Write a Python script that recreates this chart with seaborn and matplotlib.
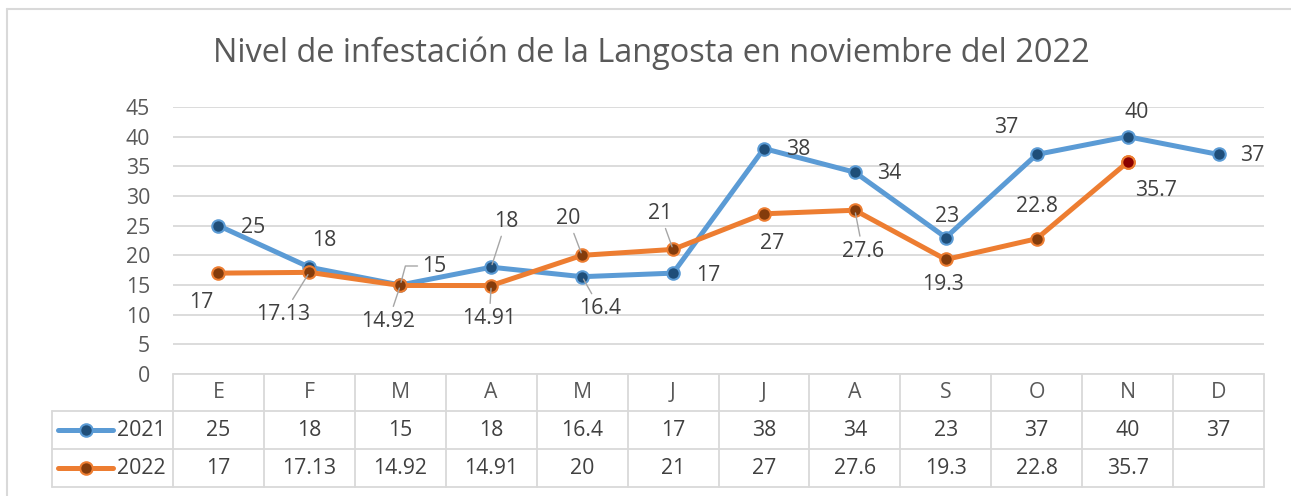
import numpy as np
import pandas as pd
import matplotlib
matplotlib.use("Agg")
import matplotlib.pyplot as plt
import matplotlib.transforms as mtransforms
from matplotlib.lines import Line2D
import seaborn as sns

# ---------------- data ----------------
months = ["E", "F", "M", "A", "M", "J", "J", "A", "S", "O", "N", "D"]
series_names = ["2021", "2022"]
values_2021 = [25, 18, 15, 18, 16.4, 17, 38, 34, 23, 37, 40, 37]
values_2022 = [17, 17.13, 14.92, 14.91, 20, 21, 27, 27.6, 19.3, 22.8, 35.7, np.nan]
y_ticks = [0, 5, 10, 15, 20, 25, 30, 35, 40, 45]
title = "Nivel de infestación de la Langosta en noviembre del 2022"

# ---------------- styles ----------------
W, H = 1291, 496
C_2021, F_2021 = "#5B9BD5", "#1F4E79"
C_2022, F_2022 = "#ED7D31", "#843C0C"
F_HIGHLIGHT = "#8B0000"
GRID = "#D9D9D9"
TXT = "#404040"
FONT = "Open Sans"
FS = 15.3

# label offsets in pixels (dx, dy up) and whether a leader line is drawn
off_2021 = [(35, -2), (15, 27), (34, 19), (15, 46), (18, -32), (35, -2),
            (34, -1), (34, -1), (1, 21), (-30, 27), (9, 24), (34, -1)]
lead_2021 = [False, False, "bent", True, True, False, False, False, False, False, False, False]
off_2022 = [(-17, -29), (-26, -42), (-12, -36), (-2, -33), (-14, 37), (-13, 36),
            (8, -30), (8, -41), (-3, -25), (0, 32), (28, -28), (0, 0)]
lead_2022 = [False, True, True, True, True, True, False, True, False, False, False, False]

sns.set_theme(style="white")
plt.rcParams["font.family"] = [FONT, "DejaVu Sans"]

fig = plt.figure(figsize=(W / 100, H / 100), dpi=100)
AX_L, AX_R = 173 / W, 1264 / W
AX_B, AX_T = 1 - 374 / H, 1 - 107 / H
ax = fig.add_axes([AX_L, AX_B, AX_R - AX_L, AX_T - AX_B])

x = np.arange(len(months))
df = pd.DataFrame({"x": x, "2021": values_2021, "2022": values_2022})

sns.lineplot(data=df, x="x", y="2021", ax=ax, color=C_2021, linewidth=3.6,
             marker="o", markersize=9, markerfacecolor=F_2021,
             markeredgecolor=C_2021, markeredgewidth=1.5, zorder=3)
sns.lineplot(data=df.dropna(), x="x", y="2022", ax=ax, color=C_2022, linewidth=3.6,
             marker="o", markersize=9, markerfacecolor=F_2022,
             markeredgecolor=C_2022, markeredgewidth=1.5, zorder=4)
# highlighted last point of 2022
last = df.dropna().index[-1]
ax.plot(df.loc[last, "x"], df.loc[last, "2022"], marker="o", markersize=9,
        markerfacecolor=F_HIGHLIGHT, markeredgecolor=C_2022, markeredgewidth=1.5,
        linestyle="none", zorder=5)

ax.set_xlim(-0.5, len(months) - 0.5)
ax.set_ylim(0, 45)
ax.set_yticks(y_ticks)
ax.set_xticks([])
ax.set_xlabel("")
ax.set_ylabel("")
ax.yaxis.grid(True, color=GRID, linewidth=1.3)
ax.xaxis.grid(False)
for s in ax.spines.values():
    s.set_visible(False)
ax.tick_params(axis="y", length=0, pad=16.5, labelsize=FS, labelcolor="#595959")
for lbl in ax.get_yticklabels():
    lbl.set_clip_on(False)


def add_labels(vals, offs, leads):
    for xi, v, (dx, dy), ld in zip(x, vals, offs, leads):
        if np.isnan(v):
            continue
        kw = {}
        if ld:
            cs = "angle,angleA=0,angleB=75,rad=0" if ld == "bent" else "arc3"
            kw["arrowprops"] = dict(arrowstyle="-", color="#A6A6A6", lw=1.0,
                                    shrinkA=1, shrinkB=2, connectionstyle=cs)
        ax.annotate(f"{v:g}", xy=(xi, v), xytext=(dx, dy), textcoords="offset pixels",
                    ha="center", va="center", fontsize=FS, color=TXT, zorder=6, **kw)


add_labels(values_2021, off_2021, lead_2021)
add_labels(values_2022, off_2022, lead_2022)

# ---------------- title ----------------
fig.text(651.5 / W, 1 - 62 / H, title, ha="center", va="baseline",
         fontsize=23.4, color="#595959")

# ---------------- data table ----------------
def fy(py):
    return 1 - py / H

bt = mtransforms.blended_transform_factory(ax.transData, fig.transFigure)
tab_kw = dict(color=GRID, linewidth=1.3, zorder=1)
ROW = [374, 411, 449, 487]
# verticals between columns
for i in range(len(months) + 1):
    fig.add_artist(Line2D([i - 0.5, i - 0.5], [fy(ROW[0]), fy(ROW[3])], transform=bt, **tab_kw))
fig.add_artist(Line2D([-0.5, len(months) - 0.5], [fy(ROW[0])] * 2, transform=bt, **tab_kw))
LEG_L = 52 / W
for r in ROW[1:]:
    fig.add_artist(Line2D([LEG_L, AX_R], [fy(r)] * 2, transform=fig.transFigure, **tab_kw))
fig.add_artist(Line2D([LEG_L, LEG_L], [fy(ROW[1]), fy(ROW[3])], transform=fig.transFigure, **tab_kw))

for i, m in enumerate(months):
    fig.text(i, fy((ROW[0] + ROW[1]) / 2), m, transform=bt, ha="center", va="center",
             fontsize=FS, color="#595959")
for r, (vals, name, c, f) in enumerate([(values_2021, "2021", C_2021, F_2021),
                                        (values_2022, "2022", C_2022, F_2022)]):
    yc = fy((ROW[r + 1] + ROW[r + 2]) / 2)
    for i, v in enumerate(vals):
        if np.isnan(v):
            continue
        fig.text(i, yc, f"{v:g}", transform=bt, ha="center", va="center",
                 fontsize=FS, color=TXT)
    fig.add_artist(Line2D([58 / W, 113 / W], [yc, yc], transform=fig.transFigure,
                          color=c, linewidth=3.6, solid_capstyle="round"))
    fig.add_artist(Line2D([86 / W], [yc], transform=fig.transFigure, marker="o",
                          markersize=9, markerfacecolor=f, markeredgecolor=c,
                          markeredgewidth=1.5, linestyle="none"))
    fig.text(166 / W, yc, name, ha="right", va="center", fontsize=FS, color=TXT)

# chart outer border (left and top visible)
fig.add_artist(Line2D([7 / W, 7 / W], [0, fy(9)], transform=fig.transFigure, color=GRID, linewidth=1.5))
fig.add_artist(Line2D([7 / W, 1], [fy(9), fy(9)], transform=fig.transFigure, color=GRID, linewidth=1.5))

fig.savefig("out.png", dpi=100)
